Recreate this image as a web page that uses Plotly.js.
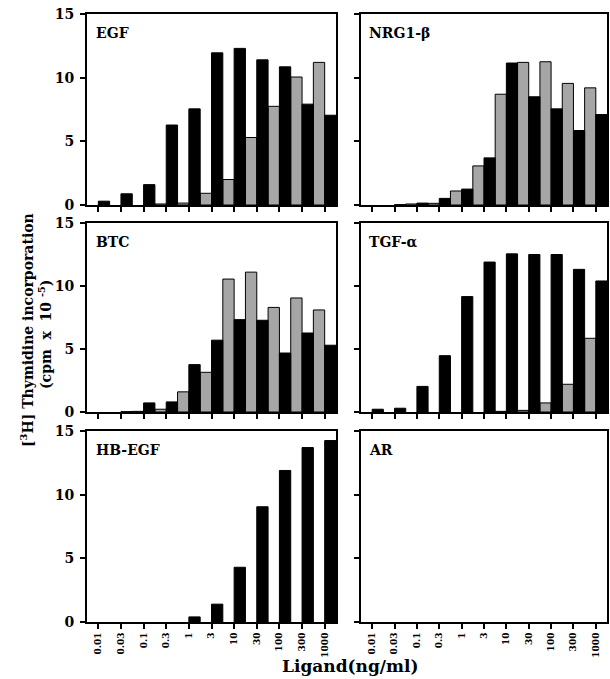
<!DOCTYPE html>
<html>
<head>
<meta charset="utf-8">
<script src="https://cdn.plot.ly/plotly-3.0.1.min.js"></script>
<style>html,body{margin:0;padding:0;background:#fff;}#chart{width:610px;height:679px;}</style>
</head>
<body>
<div id="chart"></div>
<script>
// Ligand concentrations (ng/ml)
var doses = ["0.01","0.03","0.1","0.3","1","3","10","30","100","300","1000"];
var panelNames = ["EGF","NRG1-β","BTC","TGF-α","HB-EGF","AR"];

// [3H] thymidine incorporation (cpm x 10^-5); gray series and black series
var egfGray   = [null, null, null, 0.08, 0.15, 0.92, 2.0, 5.3, 7.75, 10.05, 11.2];
var egfBlack  = [0.3, 0.88, 1.6, 6.28, 7.55, 11.95, 12.3, 11.4, 10.85, 7.92, 7.05];
var nrgGray   = [null, null, 0.08, 0.13, 1.1, 3.07, 8.7, 11.2, 11.25, 9.55, 9.2];
var nrgBlack  = [null, 0.03, 0.15, 0.52, 1.25, 3.7, 11.15, 8.5, 7.55, 5.85, 7.1];
var btcGray   = [null, null, 0.05, 0.22, 1.6, 3.15, 10.55, 11.1, 8.3, 9.05, 8.1];
var btcBlack  = [null, 0.03, 0.72, 0.8, 3.76, 5.7, 7.33, 7.28, 4.68, 6.27, 5.3];
var tgfGray   = [null, null, null, null, null, null, 0.05, 0.13, 0.72, 2.2, 5.85];
var tgfBlack  = [0.22, 0.3, 2.03, 4.47, 9.16, 11.9, 12.55, 12.5, 12.5, 11.32, 10.4];
var hbGray    = [null, null, null, null, null, null, null, null, null, null, null];
var hbBlack   = [null, null, null, null, 0.4, 1.4, 4.3, 9.05, 11.9, 13.7, 14.25];
var arGray    = [null, null, null, null, null, null, null, null, null, null, null];
var arBlack   = [null, null, null, null, null, null, null, null, null, null, null];

var grayData  = [egfGray, nrgGray, btcGray, tgfGray, hbGray, arGray];
var blackData = [egfBlack, nrgBlack, btcBlack, tgfBlack, hbBlack, arBlack];

var FONT = "DejaVu Serif, Liberation Serif, serif";
var GRAY = "#a6a6a6";

var traces = [];
for (var i = 0; i < 6; i++) {
  var ax = i === 0 ? "" : String(i + 1);
  traces.push({
    type: "bar", x: doses, y: grayData[i], xaxis: "x" + ax, yaxis: "y" + ax,
    marker: {color: GRAY, line: {color: "#000", width: 1}}, showlegend: false, hoverinfo: "y"
  });
  traces.push({
    type: "bar", x: doses, y: blackData[i], xaxis: "x" + ax, yaxis: "y" + ax,
    marker: {color: "#000", line: {color: "#000", width: 1}}, showlegend: false, hoverinfo: "y"
  });
}

// plot area: left 87..336, right 361..607 ; rows 14..205, 223..412, 431..622
var W = 610, H = 679, ml = 87, mr = 3, mt = 14, mb = 57;
var pw = W - ml - mr, ph = H - mt - mb;
function fx(a, b) { return [(a - ml) / pw, (b - ml) / pw]; }
function fy(top, bot) { return [(H - mb - bot) / ph, (H - mb - top) / ph]; }
var colDom = [fx(87, 336), fx(361, 607)];
var rowDom = [fy(14, 205), fy(223, 412), fy(431, 622)];

var layout = {
  width: W, height: H,
  margin: {l: ml, r: mr, t: mt, b: mb, pad: 0},
  paper_bgcolor: "#fff", plot_bgcolor: "#fff",
  barmode: "group", bargap: 0, bargroupgap: 0,
  font: {family: FONT, color: "#000"},
  annotations: []
};

for (var i = 0; i < 6; i++) {
  var ax = i === 0 ? "" : String(i + 1);
  var col = i % 2, row = Math.floor(i / 2);
  var bottom = row === 2;
  layout["xaxis" + ax] = {
    domain: colDom[col], anchor: "y" + ax, type: "category",
    range: [-0.5, 10.5], fixedrange: true,
    showline: true, linecolor: "#000", linewidth: 2, mirror: true,
    ticks: "outside", ticklen: 5, tickwidth: 2, tickcolor: "#000",
    showgrid: false, zeroline: false,
    showticklabels: bottom, tickangle: -90,
    tickfont: {family: FONT, size: 9, color: "#000", weight: "bold"}
  };
  layout["yaxis" + ax] = {
    domain: rowDom[row], anchor: "x" + ax,
    range: [0, 15], fixedrange: true,
    tickvals: [0, 5, 10, 15],
    showline: true, linecolor: "#000", linewidth: 2, mirror: true,
    ticks: "outside", ticklen: 5, tickwidth: 2, tickcolor: "#000",
    showgrid: false, zeroline: false,
    showticklabels: col === 0, ticklabelstandoff: 3,
    tickfont: {family: FONT, size: 14, color: "#000", weight: "bold"}
  };
  layout.annotations.push({
    text: "<b>" + panelNames[i] + "</b>",
    xref: "x" + ax + " domain", yref: "y" + ax + " domain",
    x: col === 0 ? 0.03 : 0.025, y: 0.955, xanchor: "left", yanchor: "top",
    showarrow: false, font: {family: FONT, size: 14, color: "#000"}
  });
}

layout.annotations.push({
  text: "<b>[<sup>3</sup>H] Thymidine incorporation</b>",
  xref: "paper", yref: "paper", x: 0, y: (H - mb - 330) / ph,
  xshift: -60, xanchor: "center", yanchor: "middle", textangle: -90,
  showarrow: false, font: {family: FONT, size: 14, color: "#000"}
});
layout.annotations.push({
  text: "<b>(cpm  x  10 <sup>-5</sup>)</b>",
  xref: "paper", yref: "paper", x: 0, y: (H - mb - 335) / ph,
  xshift: -42, xanchor: "center", yanchor: "middle", textangle: -90,
  showarrow: false, font: {family: FONT, size: 14, color: "#000"}
});
layout.annotations.push({
  text: "<b>Ligand(ng/ml)</b>",
  xref: "paper", yref: "paper", x: (350 - ml) / pw, y: 0,
  yshift: -44, xanchor: "center", yanchor: "middle",
  showarrow: false, font: {family: FONT, size: 17, color: "#000"}
});

Plotly.newPlot("chart", traces, layout, {staticPlot: true, displayModeBar: false});
</script>
</body>
</html>
